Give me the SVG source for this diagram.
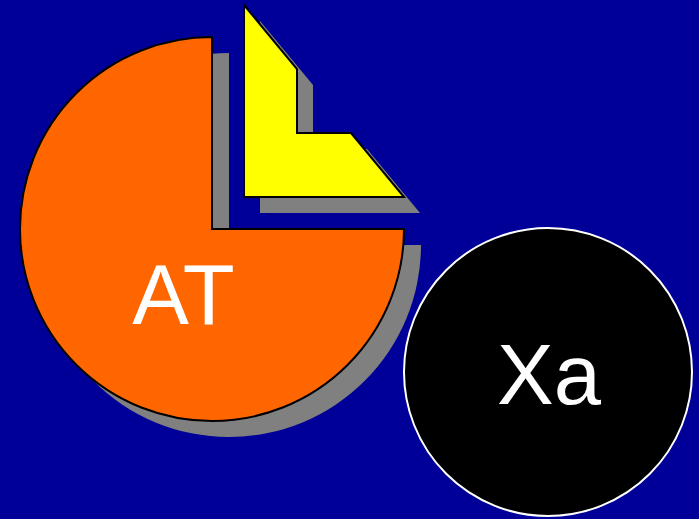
<svg xmlns="http://www.w3.org/2000/svg" width="699" height="519" viewBox="0 0 699 519">
<style>
.shadow{fill:#808080;stroke:none}
.lbl{font-family:"Liberation Sans",Arial,sans-serif;font-size:85px;fill:#ffffff;text-anchor:middle}
</style>
<rect x="0" y="0" width="699" height="519" fill="#000099"/>
<g id="node-at">
<path class="shadow" d="M229,245 L229,53 A192,192 0 1 0 421,245 Z"/>
<path d="M212,229 L212,37 A192,192 0 1 0 404,229 Z" fill="#ff6600" stroke="#000000" stroke-width="2"/>
<text class="lbl" x="183.5" y="324">AT</text>
</g>
<g id="node-slice">
<polygon class="shadow" points="260,21 313,85 313,149 367,149 420,213 260,213"/>
<polygon points="244,5 297,69 297,133 351,133 404,197 244,197" fill="#ffff00" stroke="#000000" stroke-width="2" stroke-linejoin="miter"/>
</g>
<g id="node-xa">
<circle cx="548" cy="372" r="144" fill="#000000" stroke="#ffffff" stroke-width="2"/>
<text class="lbl" x="549" y="404">Xa</text>
</g>
<g id="connectors"></g>
</svg>
